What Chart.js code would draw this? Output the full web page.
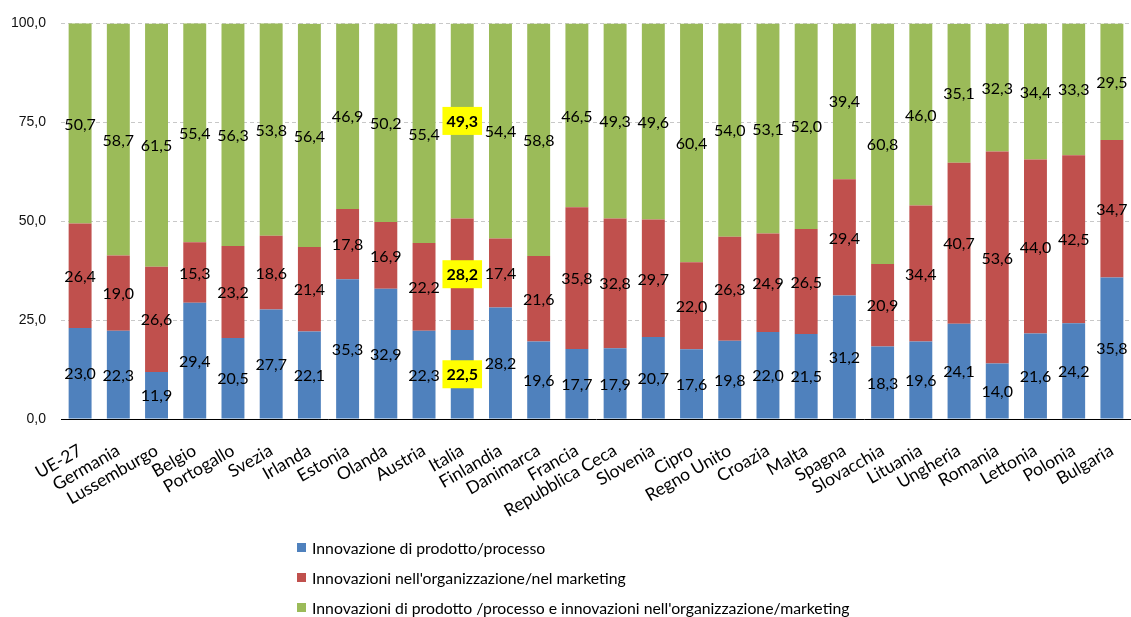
<!DOCTYPE html>
<html>
<head>
<meta charset="utf-8">
<script src="https://cdn.jsdelivr.net/npm/chart.js@4.4.1/dist/chart.umd.min.js"></script>
<style>
  html, body { margin: 0; padding: 0; background: #fff; }
  #wrap { position: relative; width: 1131px; height: 617px; overflow: hidden; }
  #legend { position: absolute; left: 297px; top: 532px; font-family: Lato, sans-serif; font-size: 15.8px; color: #000; }
  .li { display: flex; align-items: center; height: 30px; }
  .sw { width: 9px; height: 9px; margin-right: 6px; }
</style>
</head>
<body>
<div id="wrap">
  <canvas id="c" width="1131" height="617"></canvas>
  <div id="legend"></div>
</div>
<script>
const categories = ['UE-27','Germania','Lussemburgo','Belgio','Portogallo','Svezia','Irlanda','Estonia','Olanda','Austria','Italia','Finlandia','Danimarca','Francia','Repubblica Ceca','Slovenia','Cipro','Regno Unito','Croazia','Malta','Spagna','Slovacchia','Lituania','Ungheria','Romania','Lettonia','Polonia','Bulgaria'];
const prodottoProcesso = [23.0,22.3,11.9,29.4,20.5,27.7,22.1,35.3,32.9,22.3,22.5,28.2,19.6,17.7,17.9,20.7,17.6,19.8,22.0,21.5,31.2,18.3,19.6,24.1,14.0,21.6,24.2,35.8];
const organizzazioneMarketing = [26.4,19.0,26.6,15.3,23.2,18.6,21.4,17.8,16.9,22.2,28.2,17.4,21.6,35.8,32.8,29.7,22.0,26.3,24.9,26.5,29.4,20.9,34.4,40.7,53.6,44.0,42.5,34.7];
const entrambe = [50.7,58.7,61.5,55.4,56.3,53.8,56.4,46.9,50.2,55.4,49.3,54.4,58.8,46.5,49.3,49.6,60.4,54.0,53.1,52.0,39.4,60.8,46.0,35.1,32.3,34.4,33.3,29.5];
const seriesNames = ['Innovazione di prodotto/processo', "Innovazioni nell'organizzazione/nel marketing", "Innovazioni di prodotto /processo e innovazioni nell'organizzazione/marketing"];
const yTicks = [0, 25, 50, 75, 100];
const highlightCategory = 'Italia';

const colors = ['#4F81BD', '#C0504D', '#9BBB59'];
const fmt = v => v.toFixed(1).replace('.', ',');

const labelPlugin = {
  id: 'barLabels',
  afterDatasetsDraw(chart) {
    const ctx = chart.ctx;
    ctx.save();
    ctx.textAlign = 'center';
    ctx.textBaseline = 'middle';
    chart.data.datasets.forEach((ds, i) => {
      const meta = chart.getDatasetMeta(i);
      meta.data.forEach((bar, j) => {
        const v = ds.data[j];
        const x = bar.x;
        const top = Math.max(bar.y, chart.chartArea.top);
        const y = (top + bar.base) / 2;
        const txt = fmt(v);
        const hl = chart.data.labels[j] === highlightCategory;
        ctx.font = (hl ? 'bold ' : '') + '16px Lato, sans-serif';
        if (hl) {
          const w = ctx.measureText(txt).width + 8;
          ctx.fillStyle = '#FFFF00';
          ctx.fillRect(x - w / 2, y - 14, w, 28);
        }
        ctx.fillStyle = '#000';
        ctx.fillText(txt, x, y + 1);
      });
    });
    ctx.restore();
  }
};

const chart = new Chart(document.getElementById('c'), {
  type: 'bar',
  data: {
    labels: categories,
    datasets: [
      { label: seriesNames[0], data: prodottoProcesso, backgroundColor: colors[0] },
      { label: seriesNames[1], data: organizzazioneMarketing, backgroundColor: colors[1] },
      { label: seriesNames[2], data: entrambe, backgroundColor: colors[2] }
    ]
  },
  options: {
    responsive: false,
    animation: false,
    layout: { padding: { top: 22, right: 0, bottom: 0, left: 0 } },
    datasets: { bar: { categoryPercentage: 1.0, barPercentage: 0.6 } },
    plugins: { legend: { display: false }, tooltip: { enabled: false } },
    scales: {
      x: {
        stacked: true,
        grid: { display: false },
        border: { display: true, color: '#000', width: 1 },
        ticks: {
          color: '#000', maxRotation: 30, minRotation: 30, autoSkip: false, padding: 13,
          font: { family: 'Lato, sans-serif', size: 17.5 }
        },
        afterFit(scale) { scale.height = 198; scale.paddingRight = 0; }
      },
      y: {
        stacked: true,
        min: 0, max: 100,
        afterBuildTicks(scale) { scale.ticks = yTicks.map(v => ({ value: v })); },
        grid: {
          drawTicks: false,
          color: ctx => (ctx.tick && ctx.tick.value === 0) ? 'rgba(0,0,0,0)' : '#C8C8C8',
          lineWidth: 1
        },
        border: { display: false, dash: [4, 3] },
        ticks: {
          color: '#111', padding: 15,
          font: { family: '"Liberation Sans", Arial, sans-serif', size: 14 },
          callback: v => fmt(v)
        },
        afterFit(scale) { scale.width = 61; }
      }
    }
  },
  plugins: [labelPlugin]
});

const legend = document.getElementById('legend');
chart.data.datasets.forEach(ds => {
  const row = document.createElement('div');
  row.className = 'li';
  const sw = document.createElement('span');
  sw.className = 'sw';
  sw.style.background = ds.backgroundColor;
  const t = document.createElement('span');
  t.textContent = ds.label;
  row.appendChild(sw);
  row.appendChild(t);
  legend.appendChild(row);
});
</script>
</body>
</html>
